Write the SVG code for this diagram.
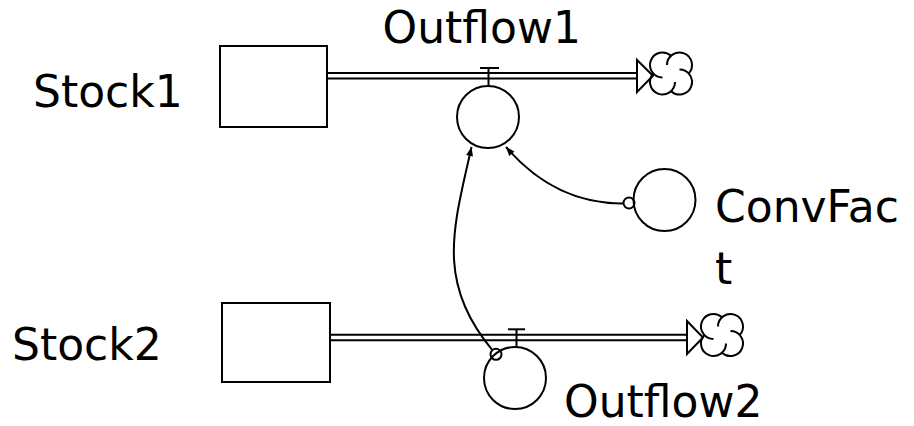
<svg xmlns="http://www.w3.org/2000/svg" width="914" height="426" viewBox="0 0 914 426">
<style>
.ln{fill:none;stroke:#000;stroke-width:2}
.nd{fill:#fff;stroke:#000;stroke-width:2}
.lbl{font-family:"DejaVu Sans","Liberation Sans",sans-serif;font-size:44px;fill:#000}
</style>
<defs>
<g id="cloud" class="ln">
<path d="M17.67 0 A12.5 12.5 0 1 0 -4 -8.5"/>
<path d="M0 -17.67 A12.5 12.5 0 1 0 -8.5 4"/>
<path d="M-17.67 0 A12.5 12.5 0 1 0 4 8.5"/>
<path d="M0 17.67 A12.5 12.5 0 1 0 8.5 -4"/>
</g>
<marker id="arr" markerUnits="userSpaceOnUse" markerWidth="12" markerHeight="10" viewBox="0 0 12 10" refX="10" refY="5" orient="auto">
<path d="M1 1.5 L10 5 L1 8.5 Z" fill="#000"/>
</marker>
</defs>
<rect width="914" height="426" fill="#fff"/>
<g id="connectors">
<g id="pipe1" class="ln">
<line x1="327" y1="73" x2="637" y2="73"/>
<line x1="327" y1="78.4" x2="637" y2="78.4"/>
<path d="M637 60 L637 92 L653 75.7 Z" fill="#fff"/>
</g>
<g id="pipe2" class="ln">
<line x1="330" y1="334.7" x2="687" y2="334.7"/>
<line x1="330" y1="340.2" x2="687" y2="340.2"/>
<path d="M687 321 L687 354 L703 337.5 Z" fill="#fff"/>
</g>
<path id="link1" class="ln" d="M623.5 203.5 Q555 204 506 147" marker-end="url(#arr)"/>
<path id="link2" class="ln" d="M492.4 350.1 C434.6 281.5 454.3 225.2 471.5 147" marker-end="url(#arr)"/>
</g>
<g id="Stock1">
<rect class="nd" x="220" y="46" width="107" height="81"/>
<text class="lbl" x="33" y="107">Stock1</text>
</g>
<g id="Stock2">
<rect class="nd" x="222" y="303" width="108" height="79"/>
<text class="lbl" x="12" y="360">Stock2</text>
</g>
<g id="Cloud1"><use href="#cloud" x="671" y="73.5"/></g>
<g id="Cloud2"><use href="#cloud" x="722" y="335"/></g>
<g id="Outflow1">
<line class="ln" x1="480" y1="68" x2="499" y2="68"/>
<line class="ln" x1="488.5" y1="68" x2="488.5" y2="86"/>
<circle class="ln" cx="488" cy="117" r="31"/>
<text class="lbl" x="382.5" y="43">Outflow1</text>
</g>
<g id="Outflow2">
<line class="ln" x1="508" y1="329.3" x2="525" y2="329.3"/>
<line class="ln" x1="516.5" y1="329.3" x2="516.5" y2="347"/>
<circle class="ln" cx="515" cy="378" r="31"/>
<circle class="ln" cx="496" cy="354.3" r="5.5"/>
<text class="lbl" x="564" y="416.5">Outflow2</text>
</g>
<g id="ConvFact">
<circle class="ln" cx="664.5" cy="200" r="31"/>
<circle class="ln" cx="629" cy="203" r="5.5"/>
<text class="lbl" x="715" y="221.5">ConvFac</text>
<text class="lbl" x="715" y="283.5">t</text>
</g>
</svg>
